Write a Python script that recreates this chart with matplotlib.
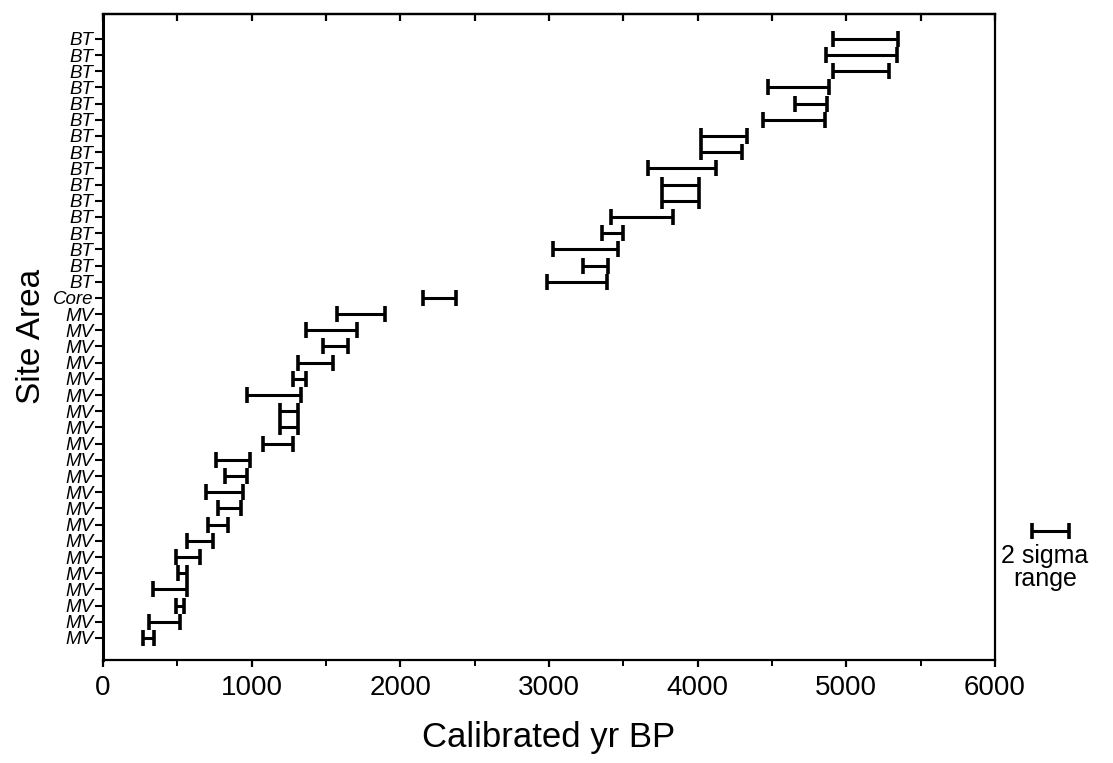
import numpy as np
import matplotlib
matplotlib.use("Agg")
from matplotlib import pyplot as plt
from matplotlib.ticker import MultipleLocator

plt.rcParams['font.family'] = ['Liberation Sans', 'DejaVu Sans']

# 2 sigma calibrated ranges, listed top to bottom as in the figure
bt_lo = [4908, 4863, 4908, 4475, 4655, 4441, 4022, 4022, 3668, 3758, 3758, 3415, 3354, 3027, 3231, 2986]
bt_hi = [5350, 5339, 5289, 4883, 4868, 4856, 4330, 4296, 4121, 4011, 4011, 3832, 3500, 3466, 3399, 3388]
core_lo = [2154]
core_hi = [2374]
mv_lo = [1576, 1365, 1482, 1314, 1280, 967, 1191, 1191, 1078, 760, 821, 693, 776, 704, 567, 489, 507, 334, 489, 312, 271]
mv_hi = [1897, 1711, 1646, 1545, 1365, 1332, 1310, 1310, 1280, 989, 967, 944, 928, 843, 742, 652, 563, 563, 547, 518, 343]

site_labels = ["BT"] * len(bt_lo) + ["Core"] * len(core_lo) + ["MV"] * len(mv_lo)
legend_range = [6250, 6500]

lo = np.array(bt_lo + core_lo + mv_lo)
hi = np.array(bt_hi + core_hi + mv_hi)
n = len(lo)
rows = np.arange(n)[::-1]  # top row gets the highest position

fig = plt.figure(figsize=(11.13, 7.63), dpi=100)
ax = fig.add_axes([0.0925, 0.135, 0.8015, 0.847])

err_kw = dict(fmt='none', ecolor='black', elinewidth=2.2, capsize=6, capthick=2.6)
ax.errorbar((lo + hi) / 2, rows, xerr=(hi - lo) / 2, **err_kw)

# legend bar outside the frame
lc = (legend_range[0] + legend_range[1]) / 2
lw = (legend_range[1] - legend_range[0]) / 2
eb = ax.errorbar([lc], [6.6], xerr=[lw], **err_kw)
for art in eb.lines[1] + eb.lines[2]:
    art.set_clip_on(False)
ax.text(lc - 40, 5.8, "2 sigma\nrange", ha='center', va='top', fontsize=18,
        linespacing=0.92)

ax.set_xlim(0, 6000)
ax.set_ylim(-1.36, n - 1 + 1.55)
ax.xaxis.set_major_locator(MultipleLocator(1000))
ax.xaxis.set_minor_locator(MultipleLocator(500))
ax.tick_params(axis='x', which='both', direction='out', labelsize=20, pad=6)
ax.tick_params(axis='x', which='major', length=5, width=1.6)
ax.tick_params(axis='x', which='minor', length=4, width=1.4)

top = ax.secondary_xaxis('top')
top.xaxis.set_major_locator(MultipleLocator(500))
top.tick_params(direction='in', length=5, width=1.6, labeltop=False)
top.spines['top'].set_linewidth(1.6)

ax.set_yticks(rows)
ax.set_yticklabels(site_labels, fontsize=13.5, style='italic')
ax.tick_params(axis='y', direction='out', length=6, width=1.5, pad=1)

for s in ax.spines.values():
    s.set_linewidth(1.6)
ax.spines['left'].set_linewidth(2.2)

ax.set_xlabel("Calibrated yr BP", fontsize=25, labelpad=14)
ax.set_ylabel("Site Area", fontsize=24, labelpad=4)

fig.savefig("out.png", dpi=100)
